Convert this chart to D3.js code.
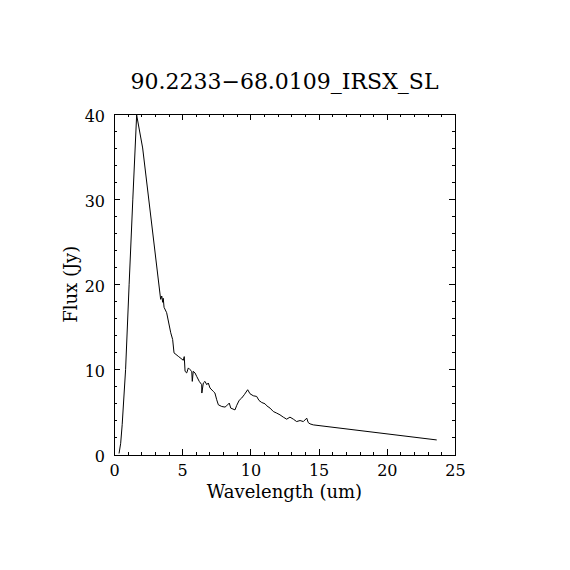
<!DOCTYPE html>
<head>
    <meta charset="utf-8">
    <title>90.2233-68.0109_IRSX_SL</title>
    <style>
        body { margin: 0; background: #fff; }
        text { font-family: "DejaVu Serif", serif; fill: #000; }
        .axis path, .axis line { stroke: #000; stroke-width: 1; shape-rendering: crispEdges; }
        .spectrum { fill: none; stroke: #000; stroke-width: 1; }
    </style>
</head>
<body>

<svg width="570" height="570"></svg>

<script src="https://d3js.org/d3.v7.min.js"></script>

<script>

// spectrum
var wavelength = [0.37, 0.49, 0.60, 0.85, 1.11, 1.38, 1.66, 2.10, 3.42, 3.50, 3.57, 3.61, 3.67, 3.86, 4.16, 4.30, 4.40,
    4.71, 5.08, 5.15, 5.21, 5.33, 5.45, 5.57, 5.70, 5.74, 5.81, 5.94, 6.06, 6.25, 6.43, 6.44, 6.55, 6.67, 6.80,
    6.91, 7.04, 7.28, 7.40, 7.53, 7.65, 7.90, 8.14, 8.26, 8.45, 8.56, 8.87, 9.00, 9.18, 9.36, 9.55, 9.80, 9.97,
    10.21, 10.46, 10.63, 10.83, 11.07, 11.20, 11.44, 11.68, 11.93, 12.17, 12.41, 12.66, 12.90, 13.15, 13.39,
    13.64, 13.88, 14.13, 14.24, 14.37, 14.61, 23.66];
var flux = [0.12, 1.32, 3.5, 10.0, 20.0, 30.0, 39.88, 36.01, 18.23, 18.62, 17.88, 18.35, 17.29, 16.66, 14.30, 13.51, 11.94,
    11.54, 11.07, 11.50, 9.77, 9.58, 10.17, 9.97, 9.77, 8.59, 9.77, 9.58, 9.18, 8.59, 8.20, 7.22, 8.40, 8.59, 8.20,
    8.40, 7.81, 7.41, 7.22, 6.43, 5.84, 5.64, 5.57, 5.72, 6.04, 5.45, 5.24, 5.78, 6.37, 6.63, 7.02, 7.61, 7.14,
    6.90, 6.82, 6.35, 6.11, 5.96, 5.72, 5.45, 5.05, 4.86, 4.66, 4.39, 4.15, 4.39, 4.15, 3.87,
    3.99, 3.87, 4.27, 3.75, 3.60, 3.48, 1.71];

var xTicks = [0, 5, 10, 15, 20, 25];
var yTicks = [0, 10, 20, 30, 40];
var title = '90.2233\u221268.0109_IRSX_SL';
var xTitle = 'Wavelength (um)';
var yTitle = 'Flux (Jy)';

var svg = d3.select('svg'),
    x0 = 114, x1 = 455, y0 = 114, y1 = 454.5;

var x = d3.scaleLinear().domain([0, 25]).range([x0, x1]);
var y = d3.scaleLinear().domain([0, 40]).range([y1, y0]);

var xMinor = d3.range(0, 25.01, 1);
var yMinor = d3.range(0, 40.01, 2);

// minor ticks first, majors on top (ticks point inward like IDL)
svg.append('g').attr('class', 'axis').attr('transform', `translate(0,${y1})`)
    .call(d3.axisBottom(x).tickValues(xMinor).tickSize(-3).tickFormat(''));
svg.append('g').attr('class', 'axis').attr('transform', `translate(0,${y0})`)
    .call(d3.axisTop(x).tickValues(xMinor).tickSize(-3).tickFormat(''));
svg.append('g').attr('class', 'axis').attr('transform', `translate(${x0},0)`)
    .call(d3.axisLeft(y).tickValues(yMinor).tickSize(-3).tickFormat(''));
svg.append('g').attr('class', 'axis').attr('transform', `translate(${x1},0)`)
    .call(d3.axisRight(y).tickValues(yMinor).tickSize(-3).tickFormat(''));

var xAxis = svg.append('g').attr('class', 'axis').attr('transform', `translate(0,${y1})`)
    .call(d3.axisBottom(x).tickValues(xTicks).tickSizeInner(-6).tickSizeOuter(0).tickPadding(10));
svg.append('g').attr('class', 'axis').attr('transform', `translate(0,${y0})`)
    .call(d3.axisTop(x).tickValues(xTicks).tickSizeInner(-6).tickSizeOuter(0).tickFormat(''));
var yAxis = svg.append('g').attr('class', 'axis').attr('transform', `translate(${x0},0)`)
    .call(d3.axisLeft(y).tickValues(yTicks).tickSizeInner(-6).tickSizeOuter(0).tickPadding(9));
svg.append('g').attr('class', 'axis').attr('transform', `translate(${x1},0)`)
    .call(d3.axisRight(y).tickValues(yTicks).tickSizeInner(-6).tickSizeOuter(0).tickFormat(''));

svg.selectAll('.axis text')
    .style('font-family', '"DejaVu Serif", serif')
    .style('font-size', '16px');
yAxis.selectAll('text').attr('dy', '0.45em');

var line = d3.line()
    .x((d, i) => x(wavelength[i]))
    .y((d, i) => y(flux[i]));

svg.append('path')
    .datum(flux)
    .attr('class', 'spectrum')
    .attr('d', line);

svg.append('text')
    .attr('x', (x0 + x1) / 2)
    .attr('y', 89)
    .attr('text-anchor', 'middle')
    .style('font-size', '22px')
    .text(title);

svg.append('text')
    .attr('x', (x0 + x1) / 2)
    .attr('y', 498)
    .attr('text-anchor', 'middle')
    .style('font-size', '18px')
    .text(xTitle);

svg.append('text')
    .attr('transform', `translate(77,${(y0 + y1) / 2}) rotate(-90)`)
    .attr('text-anchor', 'middle')
    .style('font-size', '18px')
    .text(yTitle);

</script>

</body>
